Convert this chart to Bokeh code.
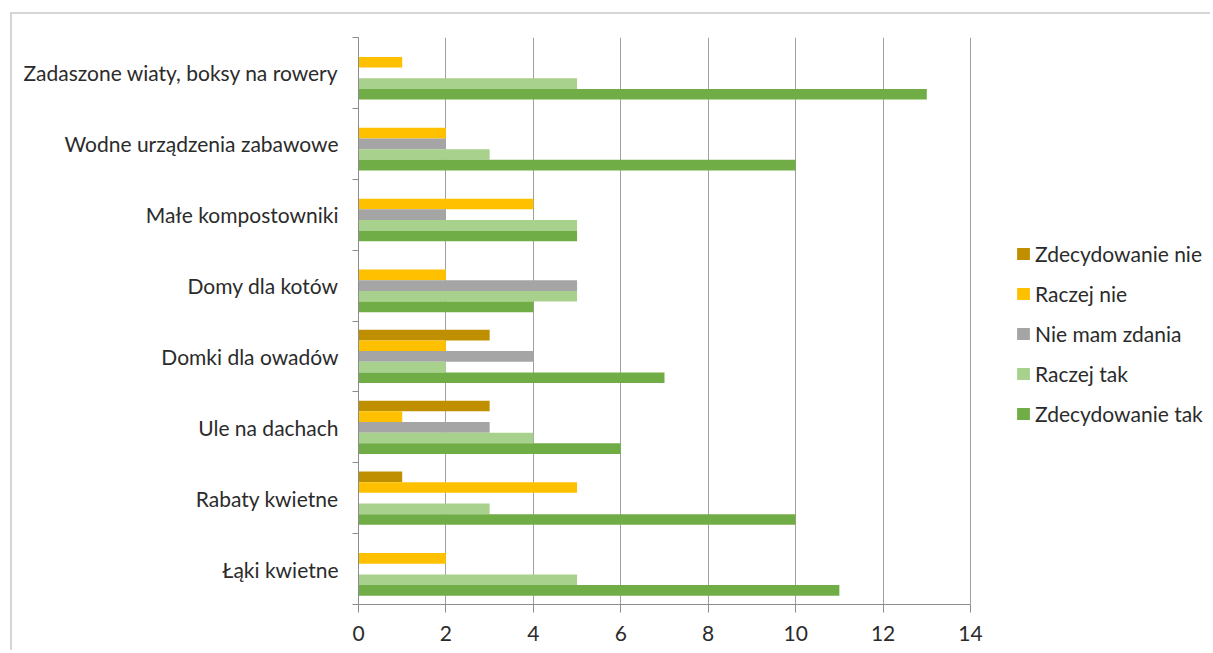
from bokeh.plotting import figure
from bokeh.models import FixedTicker, Legend, LegendItem, Range1d, ColumnDataSource
from bokeh.embed import file_html
from bokeh.resources import INLINE

categories = ["Łąki kwietne", "Rabaty kwietne", "Ule na dachach", "Domki dla owadów",
              "Domy dla kotów", "Małe kompostowniki", "Wodne urządzenia zabawowe",
              "Zadaszone wiaty, boksy na rowery"]
series_names = ["Zdecydowanie nie", "Raczej nie", "Nie mam zdania", "Raczej tak", "Zdecydowanie tak"]
zdecydowanie_nie = [0, 1, 3, 3, 0, 0, 0, 0]
raczej_nie = [2, 5, 1, 2, 2, 4, 2, 1]
nie_mam_zdania = [0, 0, 3, 4, 5, 2, 2, 0]
raczej_tak = [5, 3, 4, 2, 5, 5, 3, 5]
zdecydowanie_tak = [11, 10, 6, 7, 4, 5, 10, 13]
x_ticks = [0, 2, 4, 6, 8, 10, 12, 14]

series_values = [zdecydowanie_nie, raczej_nie, nie_mam_zdania, raczej_tak, zdecydowanie_tak]
colors = ["#BF8F00", "#FFC000", "#A5A5A5", "#A9D18E", "#70AD47"]

FONT = "Lato"
TEXT_COLOR = "#2b2b2b"

# canvas geometry (canvas starts at page x=12, y=14)
W, H = 1200, 638
FRAME_L, AXIS_R, FRAME_T, FRAME_B = 346, 958, 23, 590
x_max = max(x_ticks)
x_end = x_max * (W - FRAME_L) / (AXIS_R - FRAME_L)

p = figure(width=W, height=H, output_backend="svg", toolbar_location=None,
           x_range=Range1d(0, x_end), y_range=Range1d(0, len(categories)),
           min_border_left=FRAME_L, min_border_right=0,
           min_border_top=FRAME_T, min_border_bottom=H - FRAME_B)
p.margin = (12, 0, 0, 10)
p.styles = {"border-top": "2px solid #d6d6d6", "border-left": "2px solid #d6d6d6"}
p.outline_line_color = None
p.background_fill_color = "white"
p.border_fill_color = "white"

bar_h = 0.15
n = len(categories)
renderers = []
for k, (name, vals, col) in enumerate(zip(series_names, series_values, colors)):
    offset = (2 - k) * bar_h
    src = ColumnDataSource(dict(y=[i + 0.5 + offset for i in range(n)], right=vals))
    r = p.hbar(y="y", left=0, right="right", height=bar_h, source=src,
               fill_color=col, line_color=None)
    renderers.append((name, r))

# x axis
p.xaxis.ticker = FixedTicker(ticks=x_ticks)
p.xaxis.bounds = (0, x_max)
p.xaxis.axis_line_color = "#8c8c8c"
p.xaxis.major_tick_line_color = "#8c8c8c"
p.xaxis.major_tick_out = 8
p.xaxis.major_tick_in = 0
p.xaxis.minor_tick_line_color = None
p.xaxis.major_label_text_font = FONT
p.xaxis.major_label_text_font_size = "21px"
p.xaxis.major_label_text_color = TEXT_COLOR
p.xaxis.major_label_standoff = 13

# y axis
p.yaxis.ticker = FixedTicker(ticks=[i + 0.5 for i in range(n)],
                             minor_ticks=list(range(n + 1)))
p.yaxis.major_label_overrides = {i + 0.5: c for i, c in enumerate(categories)}
p.yaxis.axis_line_color = "#8c8c8c"
p.yaxis.major_tick_line_color = None
p.yaxis.major_tick_out = 0
p.yaxis.major_tick_in = 0
p.yaxis.minor_tick_line_color = "#8c8c8c"
p.yaxis.minor_tick_out = 6
p.yaxis.minor_tick_in = 0
p.yaxis.major_label_text_font = FONT
p.yaxis.major_label_text_font_size = "21px"
p.yaxis.major_label_text_color = TEXT_COLOR
p.yaxis.major_label_standoff = 14

# grid
p.xgrid.ticker = FixedTicker(ticks=x_ticks)
p.xgrid.grid_line_color = "#a0a0a0"
p.xgrid.grid_line_width = 1
p.ygrid.grid_line_color = None

legend = Legend(items=[LegendItem(label=nm, renderers=[r]) for nm, r in renderers],
                location=(657, 178))
legend.margin = 0
legend.padding = 0
legend.border_line_color = None
legend.background_fill_alpha = 0
legend.glyph_width = 16
legend.glyph_height = 15
legend.label_height = 20
legend.spacing = 15
legend.label_standoff = 4
legend.label_text_font = FONT
legend.label_text_font_size = "21px"
legend.label_text_color = TEXT_COLOR
legend.click_policy = "none"
p.add_layout(legend, "center")

open("out.html", "w").write(file_html(p, INLINE))
